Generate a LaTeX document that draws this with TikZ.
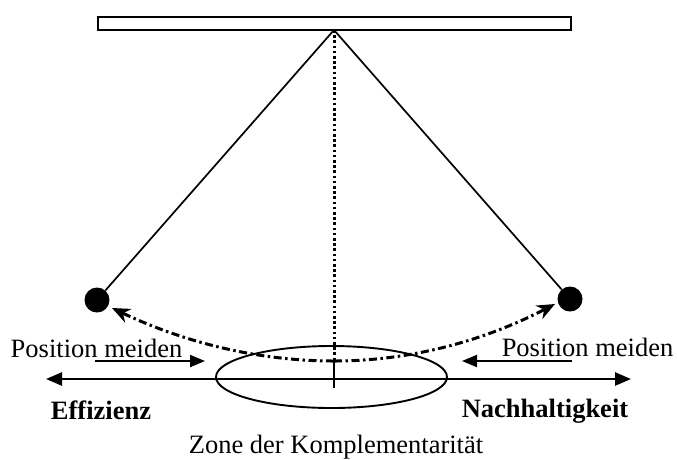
\documentclass[tikz,border=0pt]{standalone}
\usepackage{fontspec}
\setmainfont{Liberation Serif}
\usetikzlibrary{arrows.meta,shapes.geometric}
\begin{document}
\begin{tikzpicture}[x=1pt,y=-1pt,
 txt/.style={font=\fontsize{26.5}{30}\selectfont, inner sep=0pt, anchor=base},
 boldtxt/.style={font=\fontsize{26.5}{30}\selectfont\bfseries, inner sep=0pt, anchor=base},
 bob/.style={circle, fill=black, minimum size=25pt, inner sep=0pt},
 stringline/.style={line width=1.7pt},
 axisline/.style={line width=2.6pt, {Triangle[length=16pt,width=13pt]}-{Triangle[length=16pt,width=13pt]}},
 avoid/.style={line width=2pt, -{Triangle[length=15pt,width=12pt]}},
 swing/.style={line width=3pt, dash pattern=on 8pt off 3.5pt on 2.5pt off 3.5pt, -{Stealth[length=18pt,width=15pt]}}]
\useasboundingbox (0,0) rectangle (677,459);
\node[draw, line width=2pt, minimum width=473pt, minimum height=13pt, inner sep=0pt] (bar) at (334.5,23.5) {};
\coordinate (pivot) at (334,30);
\node[bob] (lbob) at (97,300) {};
\node[bob] (rbob) at (570,299) {};
\draw[stringline] (pivot) -- (lbob);
\draw[stringline] (pivot) -- (rbob);
\coordinate (low) at (334,361);
\coordinate (tick) at (334,388);
\draw[line width=3pt, dash pattern=on 2.6pt off 2.6pt] (pivot) -- (low);
\draw[line width=2.6pt] (low) -- (tick);
\node[draw, ellipse, line width=1.9pt, minimum width=231pt, minimum height=62pt, inner sep=0pt] (zone) at (331.5,377) {};
\coordinate (axl) at (46,379);
\coordinate (axr) at (631,379);
\draw[axisline] (axl) -- (axr);
\coordinate (pl1) at (95,361);
\coordinate (pl2) at (205,361);
\coordinate (pr1) at (572,361);
\coordinate (pr2) at (462,361);
\draw[avoid] (pl1) -- (pl2);
\draw[avoid] (pr1) -- (pr2);
\coordinate (ltip) at (112,308);
\coordinate (rtip) at (555,304);
\draw[swing] (low) .. controls (260,361) and (186,343.3) .. (ltip);
\draw[swing] (low) .. controls (408,361) and (481.7,342) .. (rtip);
\node[txt] (pml) at (96.5,357) {Position meiden};
\node[txt] (pmr) at (587.5,356) {Position meiden};
\node[boldtxt] (eff) at (101,419) {Effizienz};
\node[boldtxt] (nach) at (545,417) {Nachhaltigkeit};
\node[txt] (zonet) at (336,453) {Zone der Komplementarität};
\end{tikzpicture}
\end{document}
